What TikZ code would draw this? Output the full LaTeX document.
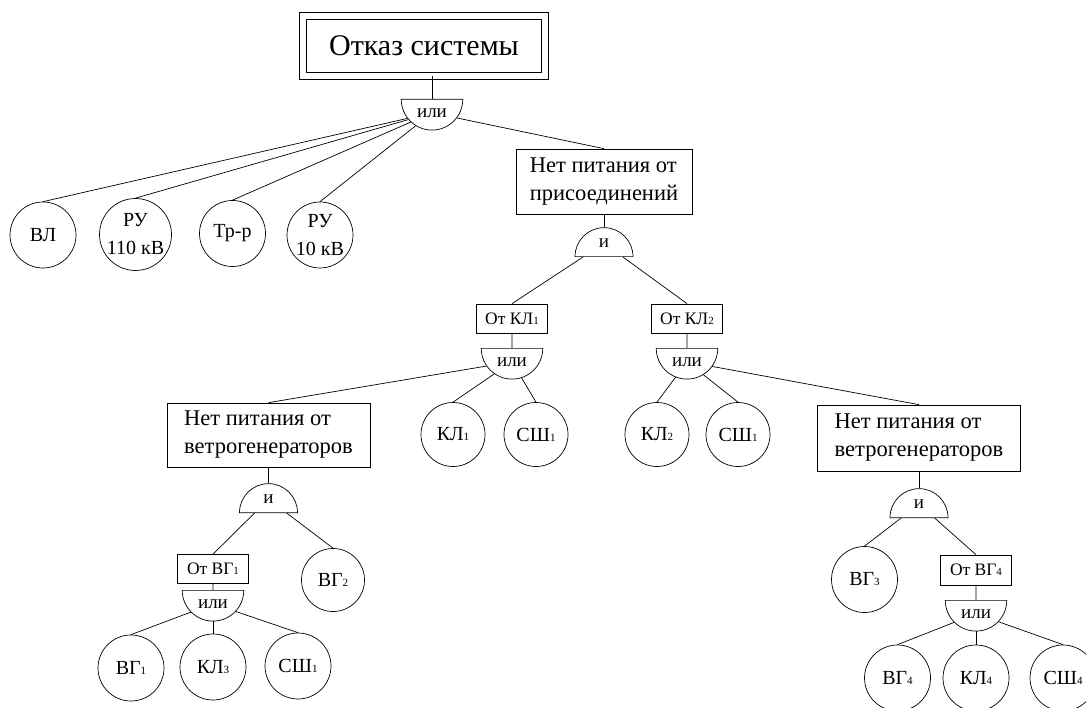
\documentclass[tikz,border=0pt]{standalone}
\usepackage{fontspec}
\setmainfont{Liberation Serif}
\usetikzlibrary{shapes.geometric}
\newcommand{\ix}[1]{{\fontsize{11}{11}\selectfont #1}}

\begin{document}
\begin{tikzpicture}[x=1pt,y=-1pt,line width=0.7pt]
		\tikzset{event/.style = {shape=circle,draw,minimum size=66pt,inner sep=0pt,align=center,font=\fontsize{20}{28}\selectfont}}
		\tikzset{cause/.style = {shape=rectangle,draw,inner sep=0pt,minimum height=65pt,align=left,font=\fontsize{22.5}{28}\selectfont}}
		\tikzset{part/.style = {shape=rectangle,draw,inner sep=0pt,minimum width=71pt,minimum height=29pt,font=\fontsize{17.5}{20}\selectfont}}
		\tikzset{orgate/.style = {shape=semicircle,draw,shape border rotate=180,anchor=chord center,minimum width=58pt,inner xsep=0pt,inner ysep=9pt,font=\fontsize{19}{19}\selectfont}}
		\tikzset{andgate/.style = {shape=semicircle,draw,anchor=chord center,minimum width=58pt,inner xsep=0pt,inner ysep=6pt,font=\fontsize{19}{19}\selectfont}}
		\useasboundingbox (0,0) rectangle (1086,708);
		% top event
		\node[draw, double, double distance=6pt, minimum width=242pt, minimum height=60pt, font=\fontsize{30}{30}\selectfont] (top) at (424,46) {Отказ системы};
		\node[orgate] (g0) at (432,99) {или};
		
		% first level
		\node[event] (vl) at (43,235) {ВЛ};
		\node[event, minimum size=72pt] (ru1) at (135.5,234.5) {РУ\\110 кВ};
		\node[event] (tr) at (232.5,233.5) {Тр-р};
		\node[event] (ru2) at (320,235) {РУ\\10 кВ};
		\node[cause, minimum width=176pt] (a) at (604,181.5) {Нет питания от\\присоединений};
		\node[andgate] (g1) at (604,257) {и};
		
		% cable lines
		\node[part] (b1) at (512,318.5) {От КЛ\ix{1}};
		\node[part] (b2) at (687,318.5) {От КЛ\ix{2}};
		\node[orgate] (g2) at (512,348) {или};
		\node[orgate] (g3) at (687,348) {или};
		\node[event, minimum size=64pt] (kl1) at (453,434.5) {КЛ\ix{1}};
		\node[event, minimum size=64pt] (sh1) at (536,434.5) {СШ\ix{1}};
		\node[event, minimum size=64pt] (kl2) at (657,434.5) {КЛ\ix{2}};
		\node[event, minimum size=64pt] (sh2) at (738,434.5) {СШ\ix{1}};
		
		% wind generators, left
		\node[cause, minimum width=203pt, minimum height=64pt] (c1) at (268.5,435) {Нет питания от\\ветрогенераторов};
		\node[andgate] (g4) at (268.5,513) {и};
		\node[part] (d1) at (213,569) {От ВГ\ix{1}};
		\node[event, minimum size=63pt] (vg2) at (333,580) {ВГ\ix{2}};
		\node[orgate] (g6) at (213,590) {или};
		\node[event] (vg1) at (131,668) {ВГ\ix{1}};
		\node[event] (kl3) at (213,667) {КЛ\ix{3}};
		\node[event] (sh3) at (298,666) {СШ\ix{1}};
		
		% wind generators, right
		\node[cause, minimum width=203pt, minimum height=66pt] (c2) at (919,438) {Нет питания от\\ветрогенераторов};
		\node[andgate] (g5) at (919,518) {и};
		\node[event] (vg3) at (864.5,579.5) {ВГ\ix{3}};
		\node[part, minimum height=30pt] (d2) at (976,570) {От ВГ\ix{4}};
		\node[orgate] (g7) at (976,600) {или};
		\node[event] (vg4) at (897.5,678) {ВГ\ix{4}};
		\node[event] (kl4) at (976,678) {КЛ\ix{4}};
		\node[event] (sh4) at (1063,678) {СШ\ix{4}};
		
		%edges
		\draw (top.south -| g0.north) -- (g0.north);
		\draw (g0) -- (vl.north);
		\draw (g0) -- (ru1.north);
		\draw (g0) -- (tr.north);
		\draw (g0) -- (ru2.north);
		\draw (g0) -- (a.north);
		
		\draw (a) -- (g1);
		\draw (g1) -- (b1.north);
		\draw (g1) -- (b2.north);
		\draw (b1) -- (g2);
		\draw (b2) -- (g3);
		\draw (g2) -- (c1.north);
		\draw (g2) -- (kl1.north);
		\draw (g2) -- (sh1.north);
		\draw (g3) -- (kl2.north);
		\draw (g3) -- (sh2.north);
		\draw (g3) -- (c2.north);
		
		\draw (c1) -- (g4);
		\draw (g4) -- (d1.north);
		\draw (g4) -- (vg2.north);
		\draw (d1) -- (g6);
		\draw (g6) -- (vg1.north);
		\draw (g6) -- (kl3.north);
		\draw (g6) -- (sh3.north);
		
		\draw (c2) -- (g5);
		\draw (g5) -- (vg3.north);
		\draw (g5) -- (d2.north);
		\draw (d2) -- (g7);
		\draw (g7) -- (vg4.north);
		\draw (g7) -- (kl4.north);
		\draw (g7) -- (sh4.north);
		
\end{tikzpicture}
\end{document}
